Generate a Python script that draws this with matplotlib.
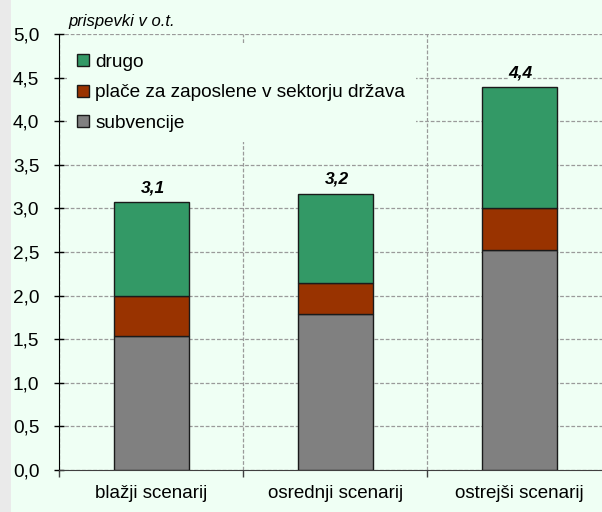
import numpy as np
import matplotlib
matplotlib.use('Agg')
import matplotlib.pyplot as plt
from matplotlib.patches import Rectangle

# podatki, odcitani s slike
scenarios = ['blažji scenarij', 'osrednji scenarij', 'ostrejši scenarij']
subvencije = [1.54, 1.79, 2.52]
place = [0.45, 0.36, 0.48]
drugo = [1.08, 1.02, 1.39]
total_labels = ['3,1', '3,2', '4,4']
yticks = np.arange(0, 5.01, 0.5)

plt.rcParams['font.family'] = ['Liberation Sans', 'DejaVu Sans']

bg = '#EFFFF4'
fig = plt.figure(figsize=(6.02, 5.12), dpi=100, facecolor=bg)
# sivi pas na levem robu
fig.patches.append(Rectangle((0, 0), 11 / 602, 1, transform=fig.transFigure,
                             facecolor='#EAEAEA', edgecolor='none', zorder=-1))

ax = fig.add_axes([59.3 / 602, 42 / 512, 552 / 602, 436 / 512])
ax.set_facecolor(bg)
ax.set_axisbelow(True)

x = np.arange(len(scenarios))
w = 0.405
edge = '#1a1a1a'
b1 = ax.bar(x, subvencije, w, color='#808080', edgecolor=edge, lw=1, zorder=3)
b2 = ax.bar(x, place, w, bottom=subvencije, color='#993300', edgecolor=edge, lw=1, zorder=3)
bottom2 = np.add(subvencije, place)
b3 = ax.bar(x, drugo, w, bottom=bottom2, color='#339966', edgecolor=edge, lw=1, zorder=3)
totals = bottom2 + np.array(drugo)

# vsote nad stolpci
for xi, t, lab in zip(x, totals, total_labels):
    ax.annotate(lab, (xi, t), xytext=(1, 5), textcoords='offset points',
                ha='center', va='bottom', fontsize=12.5, fontweight='bold',
                fontstyle='italic', zorder=4,
                bbox=dict(fc=bg, ec='none', pad=0.5))

ax.set_xlim(-0.5, 2.5)
ax.set_ylim(0, 5)
ax.set_yticks(yticks)
ax.set_yticklabels([f'{v:.1f}'.replace('.', ',') for v in yticks])
ax.set_xticks([-0.5, 0.5, 1.5, 2.5])
ax.set_xticklabels([])
ax.set_xticks(x, minor=True)
ax.set_xticklabels(scenarios, minor=True)

ax.tick_params(axis='x', which='minor', length=0, pad=11, labelsize=13.5)
ax.tick_params(axis='x', which='major', direction='out', length=5, width=1, color='#404040')
ax.tick_params(axis='y', direction='inout', length=7.2, width=1, pad=10.8, labelsize=13.7)

ax.grid(True, which='major', ls=(0, (3, 1.5)), color='#9a9a9a', lw=0.9)

for s in ['top', 'right']:
    ax.spines[s].set_visible(False)
ax.spines['left'].set_color('black')
ax.spines['bottom'].set_color('#404040')

ax.legend([b3, b2, b1], ['drugo', 'plače za zaposlene v sektorju država', 'subvencije'],
          loc='upper left', bbox_to_anchor=(0.0135, 0.979), fontsize=13.7,
          frameon=True, facecolor=bg, edgecolor='none', framealpha=1, fancybox=False,
          borderpad=0.55, labelspacing=0.72, handlelength=0.6, handleheight=0.6,
          handletextpad=0.35, borderaxespad=0)

fig.text(68 / 602, 1 - 26 / 512, 'prispevki v o.t.', fontsize=12, fontstyle='italic',
         va='baseline', ha='left')

fig.savefig('out.png', dpi=100, facecolor=bg)
